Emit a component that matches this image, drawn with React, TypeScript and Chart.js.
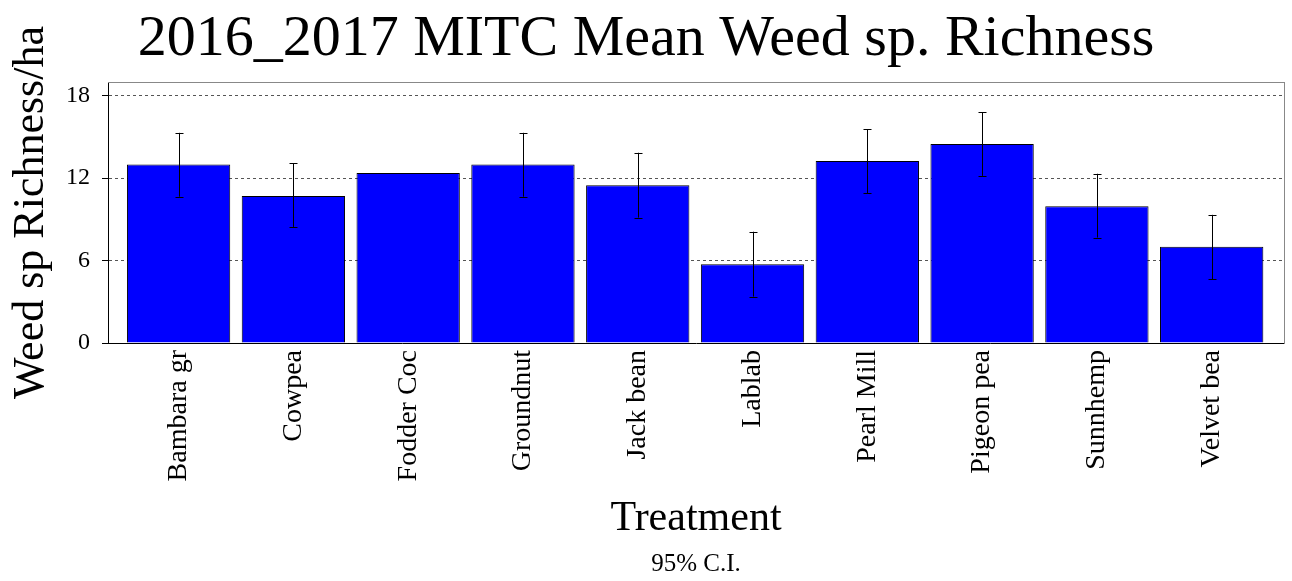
import React, { useEffect, useRef } from "react";
import { Chart, registerables } from "chart.js";

Chart.register(...registerables);

const categories = [
  "Bambara gr",
  "Cowpea",
  "Fodder Coc",
  "Groundnut",
  "Jack bean",
  "Lablab",
  "Pearl Mill",
  "Pigeon pea",
  "Sunnhemp",
  "Velvet bea",
];
const meanRichness = [13.0, 10.7, 12.37, 13.0, 11.49, 5.74, 13.24, 14.48, 9.96, 7.0];
const ciLow: (number | null)[] = [10.65, 8.45, null, 10.65, 9.13, 3.38, 10.9, 12.17, 7.68, 4.65];
const ciHigh: (number | null)[] = [15.3, 13.1, null, 15.3, 13.85, 8.1, 15.57, 16.8, 12.32, 9.33];
const yTicks = [0, 6, 12, 18];

const titleText = "2016_2017 MITC Mean Weed sp. Richness";
const yTitle = "Weed sp Richness/ha";
const xTitle = "Treatment";
const footText = "95% C.I.";

const SERIF = "'Liberation Serif', 'Times New Roman', Times, serif";

const errorBarPlugin = {
  id: "errorBars",
  afterDatasetsDraw(chart: any) {
    const { ctx, scales } = chart;
    const xs = scales.x;
    const ys = scales.y;
    ctx.save();
    ctx.strokeStyle = "#000";
    ctx.lineWidth = 1;
    for (let i = 0; i < categories.length; i++) {
      const lo = ciLow[i];
      const hi = ciHigh[i];
      if (lo == null || hi == null) continue;
      const x = Math.round(xs.getPixelForValue(i)) + 0.5;
      const yLo = ys.getPixelForValue(lo);
      const yHi = ys.getPixelForValue(hi);
      ctx.beginPath();
      ctx.moveTo(x, yLo);
      ctx.lineTo(x, yHi);
      ctx.moveTo(x - 4, Math.round(yLo) + 0.5);
      ctx.lineTo(x + 4, Math.round(yLo) + 0.5);
      ctx.moveTo(x - 4, Math.round(yHi) + 0.5);
      ctx.lineTo(x + 4, Math.round(yHi) + 0.5);
      ctx.stroke();
    }
    ctx.restore();
  },
};

const frameTopPlugin = {
  id: "frameTop",
  afterDraw(chart: any) {
    const { ctx, chartArea } = chart;
    ctx.save();
    ctx.strokeStyle = "#888";
    ctx.lineWidth = 1;
    ctx.beginPath();
    ctx.moveTo(chartArea.left, Math.round(chartArea.top) + 0.5);
    ctx.lineTo(chartArea.right, Math.round(chartArea.top) + 0.5);
    ctx.stroke();
    ctx.restore();
  },
};

export default function App() {
  const canvasRef = useRef<HTMLCanvasElement | null>(null);

  useEffect(() => {
    document.body.style.margin = "0";
    const canvas = canvasRef.current;
    if (!canvas) return;
    Chart.defaults.color = "#000";
    const chart = new Chart(canvas, {
      type: "bar",
      data: {
        datasets: [
          {
            data: meanRichness.map((v, i) => ({ x: i, y: v })),
            backgroundColor: "#0000FF",
            borderColor: "#000",
            borderWidth: 1,
            barPercentage: 0.9,
            categoryPercentage: 1,
          },
        ],
      },
      options: {
        responsive: false,
        animation: false,
        layout: { padding: 0 },
        plugins: {
          legend: { display: false },
          tooltip: { enabled: false },
          title: {
            display: true,
            text: titleText,
            color: "#000",
            font: { family: SERIF, size: 58, weight: "normal" },
            padding: { top: 4.6, bottom: 7.8 },
          },
          subtitle: {
            display: true,
            text: footText,
            position: "bottom",
            fullSize: false,
            color: "#000",
            font: { family: SERIF, size: 25, weight: "normal" },
            padding: { top: 0, bottom: 2 },
          },
        },
        scales: {
          x: {
            type: "linear",
            min: -0.615,
            max: 9.63,
            offset: false,
            afterBuildTicks: (axis: any) => {
              axis.ticks = categories.map((_, i) => ({ value: i }));
            },
            afterFit: (scale: any) => {
              scale.height = 206;
            },
            grid: { display: false, drawTicks: false, offset: false },
            border: { display: true, color: "#000", width: 1 },
            ticks: {
              autoSkip: false,
              minRotation: 90,
              maxRotation: 90,
              padding: 7,
              color: "#000",
              font: { family: SERIF, size: 28 },
              callback: (v: any) => categories[v] ?? "",
            },
            title: {
              display: true,
              text: xTitle,
              color: "#000",
              font: { family: SERIF, size: 42 },
              padding: { top: 0, bottom: 5 },
            },
          },
          y: {
            type: "linear",
            min: 0,
            max: 19,
            afterBuildTicks: (axis: any) => {
              axis.ticks = yTicks.map((v) => ({ value: v }));
            },
            afterFit: (scale: any) => {
              scale.width = 108;
            },
            grid: {
              color: (c: any) => (c.tick && c.tick.value === 0 ? "rgba(0,0,0,0)" : "#555"),
              tickColor: "#000",
              tickLength: 6,
              lineWidth: 1,
            },
            border: { display: true, color: "#000", width: 1, dash: [3, 3] },
            ticks: {
              padding: 12,
              color: "#000",
              font: { family: SERIF, size: 24 },
            },
            title: {
              display: true,
              text: yTitle,
              color: "#000",
              font: { family: SERIF, size: 44 },
              padding: { top: 4.6, bottom: 0 },
            },
          },
          y2: {
            type: "linear",
            position: "right",
            display: true,
            afterFit: (scale: any) => {
              scale.width = 8;
            },
            grid: { display: false, drawTicks: false },
            border: { display: true, color: "#888", width: 1 },
            ticks: { display: false },
          },
        },
      } as any,
      plugins: [errorBarPlugin, frameTopPlugin],
    });
    return () => chart.destroy();
  }, []);

  return (
    <div style={{ position: "fixed", left: 0, top: 0, width: 1292, height: 581, background: "#fff" }}>
      <canvas ref={canvasRef} width={1292} height={581} />
    </div>
  );
}
